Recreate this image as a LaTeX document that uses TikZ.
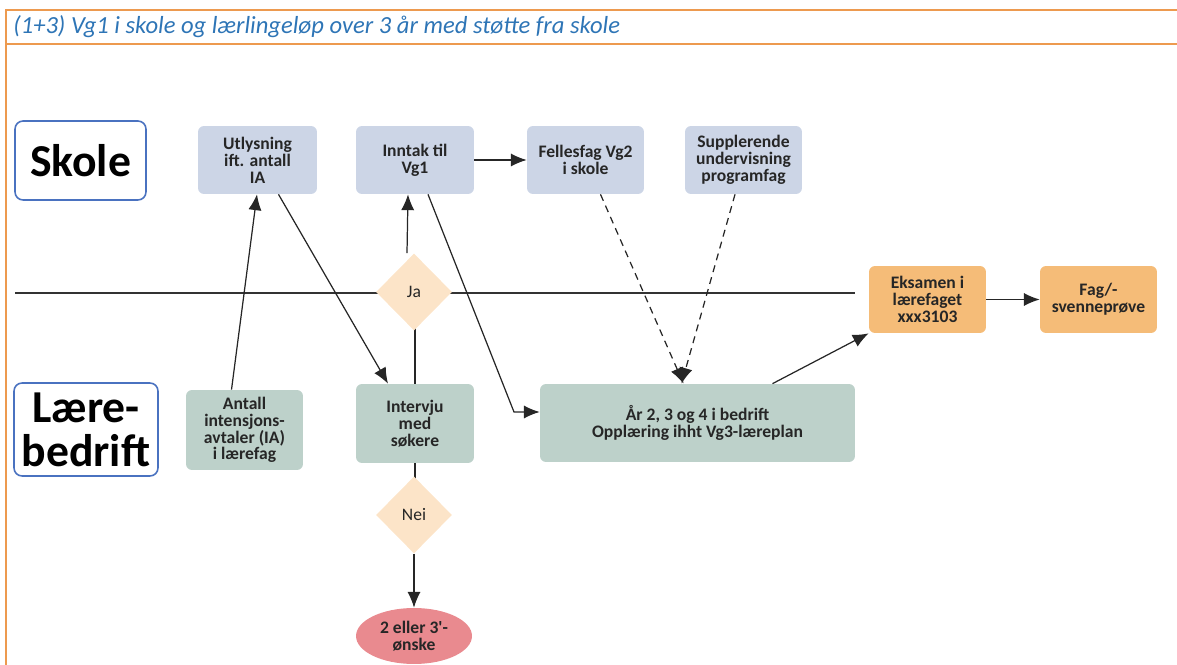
\documentclass[tikz,border=0pt]{standalone}
\usepackage{fontspec}
\setmainfont{Carlito}
\usetikzlibrary{arrows.meta,shapes.geometric,calc}
\definecolor{frameor}{HTML}{ED9A4F}
\definecolor{titleblue}{HTML}{2E75B6}
\definecolor{lblue}{HTML}{CCD5E6}
\definecolor{lgreen}{HTML}{BDD1CA}
\definecolor{lorange}{HTML}{F5BC78}
\definecolor{lpeach}{HTML}{FCE4C8}
\definecolor{lred}{HTML}{E98A8F}
\definecolor{bordblue}{HTML}{4A72C0}
\definecolor{txt}{HTML}{262626}
\begin{document}
\begin{tikzpicture}[x=0.02cm,y=-0.02cm,
  every node/.style={text=txt},
  boxbase/.style={rounded corners=0.12cm, draw=none, inner sep=0pt, align=center,
     font=\fontsize{10}{9.6}\selectfont\bfseries},
  blbox/.style={boxbase, fill=lblue},
  grbox/.style={boxbase, fill=lgreen},
  orbox/.style={boxbase, fill=lorange},
  lanebox/.style={rounded corners=0.16cm, draw=bordblue, line width=0.9pt, fill=white,
     inner sep=0pt, align=center, font=\fontsize{26}{25}\selectfont\bfseries, text=black},
  decision/.style={diamond, fill=lpeach, inner sep=0pt, minimum width=1.52cm, minimum height=1.54cm,
     font=\fontsize{10}{10}\selectfont},
  conn/.style={draw=black!85, line width=0.7pt, -{Latex[length=9pt,width=7.5pt]}},
  plain/.style={draw=black!85, line width=0.7pt},
  dconn/.style={conn, dash pattern=on 4pt off 3pt}
]
\useasboundingbox (0,0) rectangle (1177,665);
% frame
\draw[frameor, line width=1.1pt] (6,10) rectangle (1200,700);
\draw[frameor, line width=1.1pt] (6,44) -- (1200,44);
\node[anchor=west, text=titleblue, font=\fontsize{14}{14}\selectfont\itshape, inner sep=0pt] (title) at (13,27)
  {(1+3) Vg1 i skole og lærlingeløp over 3 år med støtte fra skole};

% lane labels
\node[lanebox, minimum width=2.62cm, minimum height=1.58cm] (skole) at (80.5,160.5) {Skole};
\node[lanebox, minimum width=2.88cm, minimum height=1.86cm] (laere) at (86,429.5) {Lære-\\bedrift};

% horizontal divider
\coordinate (hl1) at (15,293);
\coordinate (hl2) at (855,293);
\draw[black!80, line width=1.1pt] (hl1) -- (hl2);

% skole boxes
\node[blbox, minimum width=2.38cm, minimum height=1.36cm] (utl) at (257.5,160) {Utlysning\\ift. antall\\IA};
\node[blbox, minimum width=2.36cm, minimum height=1.36cm] (inn) at (415,160) {Inntak til\\Vg1};
\node[blbox, minimum width=2.34cm, minimum height=1.36cm] (fel) at (585.5,160) {Fellesfag Vg2\\i skole};
\node[blbox, minimum width=2.34cm, minimum height=1.36cm] (sup) at (743.5,160) {Supplerende\\undervisning\\programfag};

% orange boxes
\node[orbox, minimum width=2.34cm, minimum height=1.34cm] (eks) at (927.5,299.5) {Eksamen i\\lærefaget\\xxx3103};
\node[orbox, minimum width=2.34cm, minimum height=1.34cm] (fag) at (1098.5,299.5) {Fag/-\\svenneprøve};

% bedrift boxes
\node[grbox, minimum width=2.34cm, minimum height=1.6cm] (ant) at (244.5,430) {Antall\\intensjons-\\avtaler (IA)\\i lærefag};
\node[grbox, minimum width=2.36cm, minimum height=1.58cm] (int) at (415,423.5) {Intervju\\med\\søkere};
\node[grbox, minimum width=6.3cm, minimum height=1.56cm] (aar) at (697.5,423) {År 2, 3 og 4 i bedrift\\Opplæring ihht Vg3-læreplan};

% connectors behind diamonds
\draw[plain] (int.north) -- ([yshift=-0.3cm]int.north |- hl1);
\draw[plain] (int.south) -- ([yshift=-1.0cm]int.south);

% decisions
\node[decision] (ja) at (414,292) {Ja};
\node[decision] (nei) at (414,515) {Nei};
\node[ellipse, fill=lred, inner sep=0pt, minimum width=2.32cm, minimum height=1.12cm, align=center,
  font=\fontsize{10}{9.6}\selectfont\bfseries] (oen) at (414,636) {2 eller 3\textquotesingle-\\ønske};

% arrows
\draw[conn] ([xshift=-0.26cm]ant.north) -- ([xshift=-0.01cm]utl.south);
\draw[conn] ([xshift=0.42cm]utl.south) -- ([xshift=-0.54cm]int.north);
\draw[conn] ([xshift=-0.14cm]ja.north) -- ([xshift=-0.14cm]inn.south);
\coordinate (bend) at (514,412);
\draw[conn] ([xshift=0.26cm]inn.south) -- (bend) -- (bend -| aar.west);
\draw[conn] (inn.east) -- (fel.west);
\draw[dconn] ([xshift=0.3cm]fel.south) -- ([xshift=-0.28cm]aar.north);
\draw[dconn] ([xshift=-0.17cm]sup.south) -- ([xshift=-0.32cm]aar.north);
\draw[conn] ([xshift=1.5cm]aar.north) -- (eks.south west);
\draw[conn] (eks.east) -- (fag.west);
\draw[conn] (nei.south) -- (oen.north);
\end{tikzpicture}
\end{document}
